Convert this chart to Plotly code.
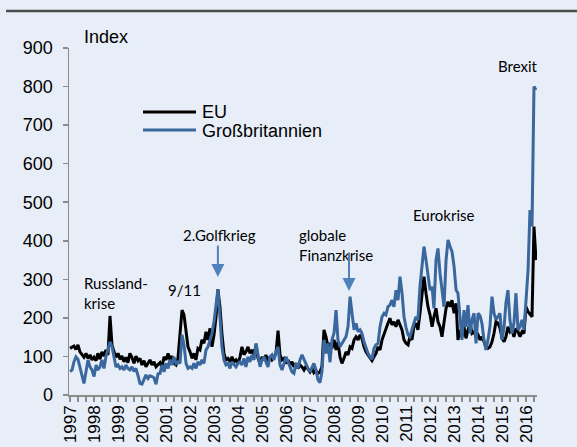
import pandas as pd
import plotly.graph_objects as go

# ---------------- data (monthly, Jan 1997 - Jun 2016) ----------------
months = pd.date_range("1997-01-01", periods=234, freq="MS")

eu_index = [
    121, 125, 127, 118, 130, 112, 104, 98, 108, 95, 104, 91,       # 1997
    98, 89, 108, 93, 112, 101, 117, 104, 205, 130, 112, 98,        # 1998
    108, 93, 101, 86, 98, 84, 108, 98, 82, 101, 89, 95,            # 1999
    78, 89, 73, 84, 91, 78, 86, 73, 78, 84, 73, 99,                # 2000
    91, 108, 91, 101, 82, 78, 95, 151, 220, 208, 160, 125,         # 2001
    112, 95, 108, 91, 121, 117, 143, 134, 164, 143, 173, 125,      # 2002
    156, 203, 274, 229, 160, 108, 91, 95, 86, 99, 86, 91,          # 2003
    82, 99, 125, 105, 112, 125, 108, 117, 104, 130, 95, 82,        # 2004
    99, 91, 104, 86, 99, 91, 98, 108, 167, 104, 91, 95,            # 2005
    82, 91, 78, 86, 73, 82, 69, 78, 73, 65, 75, 67,                # 2006
    60, 69, 58, 63, 56, 60, 73, 169, 151, 125, 134, 121,           # 2007
    143, 117, 138, 99, 82, 95, 112, 104, 125, 121, 143, 151,       # 2008
    143, 156, 147, 125, 112, 104, 95, 89, 99, 108, 125, 117,       # 2009
    143, 160, 173, 186, 199, 182, 190, 177, 195, 184, 169, 143,    # 2010
    134, 130, 151, 143, 177, 186, 169, 212, 264, 307, 264, 229,    # 2011
    208, 177, 203, 225, 190, 177, 151, 186, 225, 242, 229, 246,    # 2012
    212, 238, 143, 169, 151, 177, 147, 169, 186, 160, 164, 151,    # 2013
    156, 143, 151, 138, 125, 121, 125, 138, 160, 190, 186, 173,    # 2014
    147, 138, 151, 177, 164, 169, 151, 173, 164, 151, 164, 160,    # 2015
    229, 216, 208, 203, 437, 350,                                  # 2016
]

uk_index = [
    61, 65, 86, 99, 93, 69, 48, 30, 61, 91, 73, 65,                # 1997
    48, 78, 65, 73, 91, 69, 99, 117, 138, 125, 95, 73,             # 1998
    78, 69, 73, 65, 78, 69, 65, 73, 61, 69, 50, 30,                # 1999
    28, 40, 52, 43, 50, 48, 45, 28, 55, 56, 78, 60,                # 2000
    82, 69, 91, 78, 99, 82, 86, 82, 156, 130, 82, 69,              # 2001
    73, 69, 82, 69, 86, 78, 91, 82, 117, 125, 143, 160,            # 2002
    190, 229, 274, 203, 125, 91, 78, 82, 69, 86, 78, 73,           # 2003
    82, 86, 78, 95, 73, 99, 86, 104, 91, 134, 104, 73,             # 2004
    91, 99, 86, 73, 99, 104, 91, 112, 125, 78, 65, 82,             # 2005
    99, 86, 73, 60, 56, 82, 69, 91, 104, 91, 78, 69,               # 2006
    60, 73, 82, 65, 40, 32, 60, 143, 108, 134, 85, 143,            # 2007
    160, 220, 143, 125, 134, 143, 151, 177, 255, 212, 169, 186,    # 2008
    164, 169, 160, 138, 121, 108, 99, 93, 121, 130, 134, 177,      # 2009
    203, 212, 208, 229, 233, 246, 229, 272, 246, 307, 264, 203,    # 2010
    175, 156, 151, 173, 186, 203, 195, 281, 342, 385, 350, 307,    # 2011
    272, 281, 225, 350, 380, 316, 264, 229, 350, 402, 385, 372,    # 2012
    333, 272, 264, 212, 143, 220, 177, 233, 160, 195, 212, 134,    # 2013
    212, 205, 186, 143, 117, 143, 177, 255, 212, 195, 203, 212,    # 2014
    143, 177, 238, 272, 195, 160, 186, 264, 169, 177, 195, 169,    # 2015
    246, 324, 480, 437, 800, 791,                                  # 2016
]

year_labels = [str(y) for y in range(1997, 2017)]
series_names = ["EU", "Großbritannien"]

# arrow targets (event peaks)
event_golf_month = "2003-03-01"
event_golf_value = 306
event_fin_month = "2008-08-16"
event_fin_value = 270

# ---------------- layout helpers ----------------
W, H = 577, 447
L, R, T, B = 69, 537, 48, 395  # plot area in pixels


def px(x):
    return (x - L) / (R - L)


def py(y):
    return (B - y) / (B - T)


BG = "#E8EEF7"
BLACK = "#000000"
BLUE = "#3A679E"
ARROW = "#4F81BD"
AXIS = "#8C8C8C"
ANN_FONT = dict(family="Lato, Carlito, Calibri, sans-serif", size=15, color="#000000")

fig = go.Figure()
fig.add_trace(go.Scatter(x=months, y=eu_index, mode="lines", name=series_names[0],
                         line=dict(color=BLACK, width=3), showlegend=False))
fig.add_trace(go.Scatter(x=months, y=uk_index, mode="lines", name=series_names[1],
                         line=dict(color=BLUE, width=3), showlegend=False))

tickvals = [f"{y}-01-01" for y in year_labels]

fig.update_layout(
    width=W, height=H, autosize=False,
    margin=dict(l=L, r=W - R, t=T, b=H - B, pad=0),
    paper_bgcolor=BG, plot_bgcolor=BG,
    font=dict(family="Liberation Sans, Arial, sans-serif", size=18, color="#000000"),
    xaxis=dict(
        type="date", range=["1996-12-16", "2016-06-16"],
        tickmode="array", tickvals=tickvals, ticktext=year_labels,
        tickangle=-90, ticks="outside", ticklen=5, tickcolor=AXIS, tickwidth=1.5,
        showline=True, linecolor=AXIS, linewidth=1.5, showgrid=False, zeroline=False,
        minor=dict(ticks="outside", ticklen=5, tickcolor=AXIS, tickwidth=1.5,
                   dtick="M4", tick0="1997-01-01", showgrid=False),
        automargin=False, fixedrange=True, ticklabelstandoff=-3,
        tickfont=dict(size=17),
    ),
    yaxis=dict(
        range=[0, 900], dtick=100, tick0=0,
        ticks="outside", ticklen=5, tickcolor=AXIS, tickwidth=1.5,
        showline=True, linecolor=AXIS, linewidth=1.5, showgrid=False, zeroline=False,
        automargin=False, fixedrange=True, ticklabelstandoff=6,
        tickfont=dict(size=18),
    ),
)

shapes = [
    dict(type="line", xref="paper", yref="paper", x0=px(6), x1=px(577), y0=py(11), y1=py(11),
         line=dict(color="#4D4D4D", width=2.5)),
    dict(type="line", xref="paper", yref="paper", x0=px(143), x1=px(196), y0=py(112), y1=py(112),
         line=dict(color=BLACK, width=3)),
    dict(type="line", xref="paper", yref="paper", x0=px(143), x1=px(196), y0=py(130), y1=py(130),
         line=dict(color=BLUE, width=3)),
]
fig.update_layout(shapes=shapes)


def text_ann(txt, xl, yc, font=ANN_FONT):
    return dict(text=txt, xref="paper", yref="paper", x=px(xl), y=py(yc),
                xanchor="left", yanchor="middle", showarrow=False, font=font)


big = dict(family="Liberation Sans, Arial, sans-serif", size=18, color="#000000")
annotations = [
    text_ann("Index", 82, 37, big),
    text_ann(series_names[0], 200, 112, big),
    text_ann(series_names[1], 200, 131, big),
    text_ann("Russland-", 82, 283),
    text_ann("krise", 82, 303),
    text_ann("9/11", 166, 290),
    text_ann("2.Golfkrieg", 181, 235),
    text_ann("globale", 297, 235),
    text_ann("Finanzkrise", 297, 255),
    text_ann("Eurokrise", 411, 215),
    text_ann("Brexit", 496, 66),
    dict(x=event_golf_month, y=event_golf_value, xref="x", yref="y", text="",
         showarrow=True, arrowhead=2, arrowsize=1.3, arrowwidth=2, arrowcolor=ARROW,
         ax=0, ay=-33, standoff=0),
    dict(x=event_fin_month, y=event_fin_value, xref="x", yref="y", text="",
         showarrow=True, arrowhead=2, arrowsize=1.3, arrowwidth=2, arrowcolor=ARROW,
         ax=0, ay=-40, standoff=0),
]
fig.update_layout(annotations=annotations)

fig.write_html("out.html", config={"displayModeBar": False, "staticPlot": True},
               post_script="document.body.style.margin='0';")
